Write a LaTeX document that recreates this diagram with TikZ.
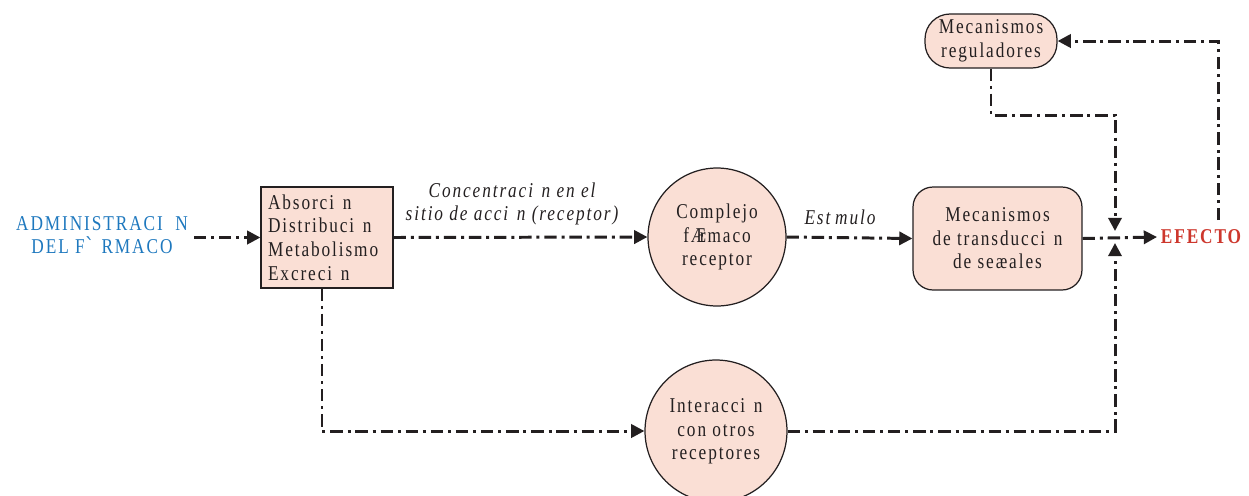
\documentclass[tikz,border=0pt]{standalone}
\usepackage{fontspec}
\setmainfont{Liberation Serif}[FakeStretch=0.82,LetterSpace=9]
\newfontfamily\djv{DejaVu Serif}
\usetikzlibrary{arrows.meta,calc}
\definecolor{nodefill}{RGB}{250,223,213}
\definecolor{admblue}{RGB}{30,120,190}
\definecolor{efred}{RGB}{205,55,45}
\definecolor{ink}{RGB}{35,31,32}
\tikzset{
  base/.style={font=\fontsize{12}{13.4}\selectfont, text=ink},
  boxnode/.style={base, draw=ink, line width=0.7pt, fill=nodefill},
  circnode/.style={boxnode, circle, inner sep=0pt, align=center},
  lbl/.style={base, font=\fontsize{12}{13.2}\selectfont\itshape, align=center},
  conn/.style={draw=ink, line width=1.7pt,
    dash pattern=on 7pt off 2.8pt on 1.7pt off 2.8pt,
    -{Triangle[length=7.5pt,width=7.5pt]}},
}
\begin{document}
\begin{tikzpicture}[x=0.02cm,y=-0.02cm]
\useasboundingbox (0,0) rectangle (1249,495);

\node[base, text=admblue, align=center] (adm) at (102,233)
  {ADMINISTRACI\phantom{Ó}N\\DEL F{\djv ˋ}\hspace{0.3em}RMACO};

\node[boxnode, text width=2.36cm, inner xsep=0.14cm, inner ysep=0pt,
  minimum height=2.02cm, align=left] (abs) at (327,237.5)
  {Absorci\phantom{ó}n\\Distribuci\phantom{ó}n\\Metabolismo\\Excreci\phantom{ó}n};

\node[circnode, minimum size=2.76cm] (c1) at (717,237)
  {Complejo\\fÆ\kern-0.3em rmaco\\receptor};

\node[lbl] (lab1) at (512,204)
  {Concentraci\phantom{ó}n en el\\sitio de acci\phantom{ó}n (receptor)};

\node[lbl] (stim) at (840,217) {Est\phantom{í}mulo};

\node[boxnode, rounded corners=0.4cm, minimum width=3.38cm, minimum height=2.06cm,
  align=center] (trans) at (997.5,238.5)
  {Mecanismos\\de transducci\phantom{ó}n\\de seæales};

\node[base, font=\fontsize{12}{13}\selectfont\bfseries, text=efred, inner sep=2pt]
  (ef) at (1201,237) {EFECTO};

\node[boxnode, rounded corners=0.5cm, minimum width=2.64cm, minimum height=1.08cm,
  inner sep=0pt, align=center] (reg) at (991,41) {Mecanismos\\reguladores};

\node[circnode, minimum size=2.84cm] (c2) at (716,431)
  {Interacci\phantom{ó}n\\con otros\\receptores};

\coordinate (jt) at (1115,231);
\coordinate (jb) at (1115,243);
\coordinate (eu) at (1218,220);
\coordinate (rb) at (1115,115);

\draw[conn] (adm.east |- abs.west) -- (abs.west);
\draw[conn] (abs.east) -- (c1.west);
\draw[conn] (c1.east) -- (trans.west);
\draw[conn] (trans.east) -- (ef.west);
\draw[conn] (eu) |- (reg.east);
\draw[conn] (reg.south) |- (rb) -- (jt);
\draw[conn] ($(abs.south)+(-5,0)$) |- (c2.west);
\draw[conn] (c2.east) -| (jb);
\end{tikzpicture}
\end{document}
